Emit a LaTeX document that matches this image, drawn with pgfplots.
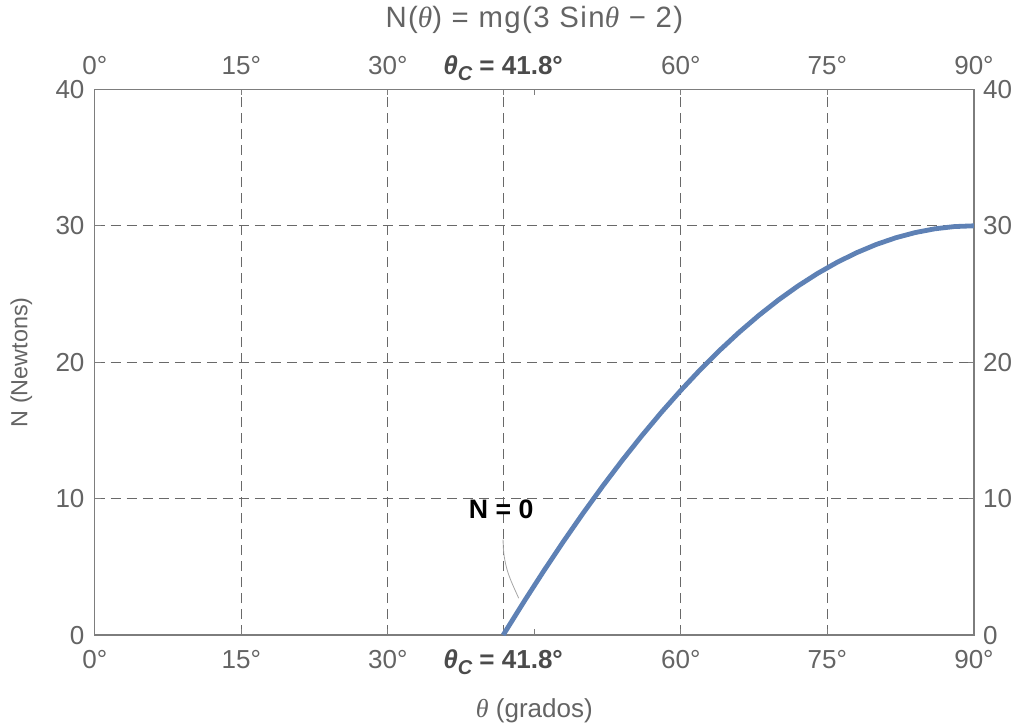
\documentclass[border=0pt]{standalone}
\usepackage{pgfplots}
\pgfplotsset{compat=1.18}
\usepackage{fontspec}
\setmainfont{Liberation Sans}
\newfontfamily\thfont{Liberation Serif}
\definecolor{txtgray}{RGB}{100,100,100}
\definecolor{boldgray}{RGB}{75,75,75}
\definecolor{framegray}{RGB}{125,125,125}
\definecolor{gridgray}{RGB}{105,105,105}
\definecolor{curveblue}{RGB}{94,129,181}
\newcommand{\thta}{{\thfont\itshape θ}}
\newcommand{\thc}{{\bfseries\color{boldgray}\itshape θ\raisebox{-0.45ex}{\fontsize{15}{17}\selectfont C}\upshape{} = 41.8°}}
\begin{document}
\begin{tikzpicture}
\useasboundingbox (-71pt,-67pt) rectangle (690.5pt,476pt);
\begin{axis}[
  scale only axis, width=659pt, height=409pt,
  xmin=0, xmax=90, ymin=0, ymax=40,
  axis line style={framegray, line width=1pt},
  tick style={framegray, line width=0.8pt},
  major tick length=4.5pt,
  tick align=inside,
  xtick={0,15,30,41.8,60,75,90},
  xticklabels={0°,15°,30°,\thc,60°,75°,90°},
  extra x ticks={45},
  extra x tick labels={},
  extra x tick style={grid=none},
  ytick={0,10,20,30,40},
  yticklabels={0,10,20,30,40},
  grid=major,
  major grid style={gridgray, dash pattern=on 7.5pt off 4.5pt, line width=0.7pt},
  ticklabel style={font=\fontsize{19.5}{22}\selectfont, text=txtgray},
  xticklabel style={anchor=base, yshift=-24.75pt},
  yticklabel style={inner sep=0pt, anchor=east, xshift=-7.5pt},
  title={N(\thta) = mg(3 Sin\thta{} − 2)},
  title style={at={(axis description cs:0.5,1.099)}, anchor=base, font=\fontsize{22}{26}\selectfont\addfontfeature{LetterSpace=5}, text=txtgray},
  xlabel={\thta{} (grados)},
  xlabel style={at={(axis description cs:0.5,-0.138)}, anchor=center, font=\fontsize{19.5}{22}\selectfont, text=txtgray},
  ylabel={N (Newtons)},
  ylabel style={at={(axis description cs:-0.0835,0.5)}, anchor=center, font=\fontsize{17.5}{20}\selectfont, text=txtgray},
]
\addplot[curveblue, line width=3.6pt, line join=round] coordinates {
(41.81,0) (42,0.222) (44,2.519) (46,4.741) (48,6.883) (50,8.944) (52,10.921)
(54,12.812) (56,14.613) (58,16.324) (60,17.942) (62,19.466) (64,20.891)
(66,22.219) (68,23.446) (70,24.572) (72,25.595) (74,26.513) (76,27.327)
(78,28.033) (80,28.633) (82,29.125) (84,29.507) (86,29.781) (88,29.945) (90,30)
};
\node[font=\bfseries\fontsize{20}{22}\selectfont, text=black] at (axis cs:41.6,9.25) {N = 0};
\draw[gray!70, line width=0.6pt] (axis cs:41.8,7.0) .. controls (axis cs:41.8,5.0) and (axis cs:42.6,4.0) .. (axis cs:43.4,2.7);
\end{axis}
\begin{axis}[
  scale only axis, width=659pt, height=409pt,
  xmin=0, xmax=90, ymin=0, ymax=40,
  axis line style={draw=none},
  tick style={draw=none},
  major tick length=0pt,
  xticklabel pos=right, yticklabel pos=right,
  xtick={0,15,30,41.8,60,75,90},
  xticklabels={0°,15°,30°,\thc,60°,75°,90°},
  ytick={0,10,20,30,40},
  yticklabels={0,10,20,30,40},
  ticklabel style={font=\fontsize{19.5}{22}\selectfont, text=txtgray},
  xticklabel style={anchor=base, yshift=11.5pt},
  yticklabel style={inner sep=0pt, anchor=west, xshift=6.75pt},
]
\end{axis}
\end{tikzpicture}
\end{document}
